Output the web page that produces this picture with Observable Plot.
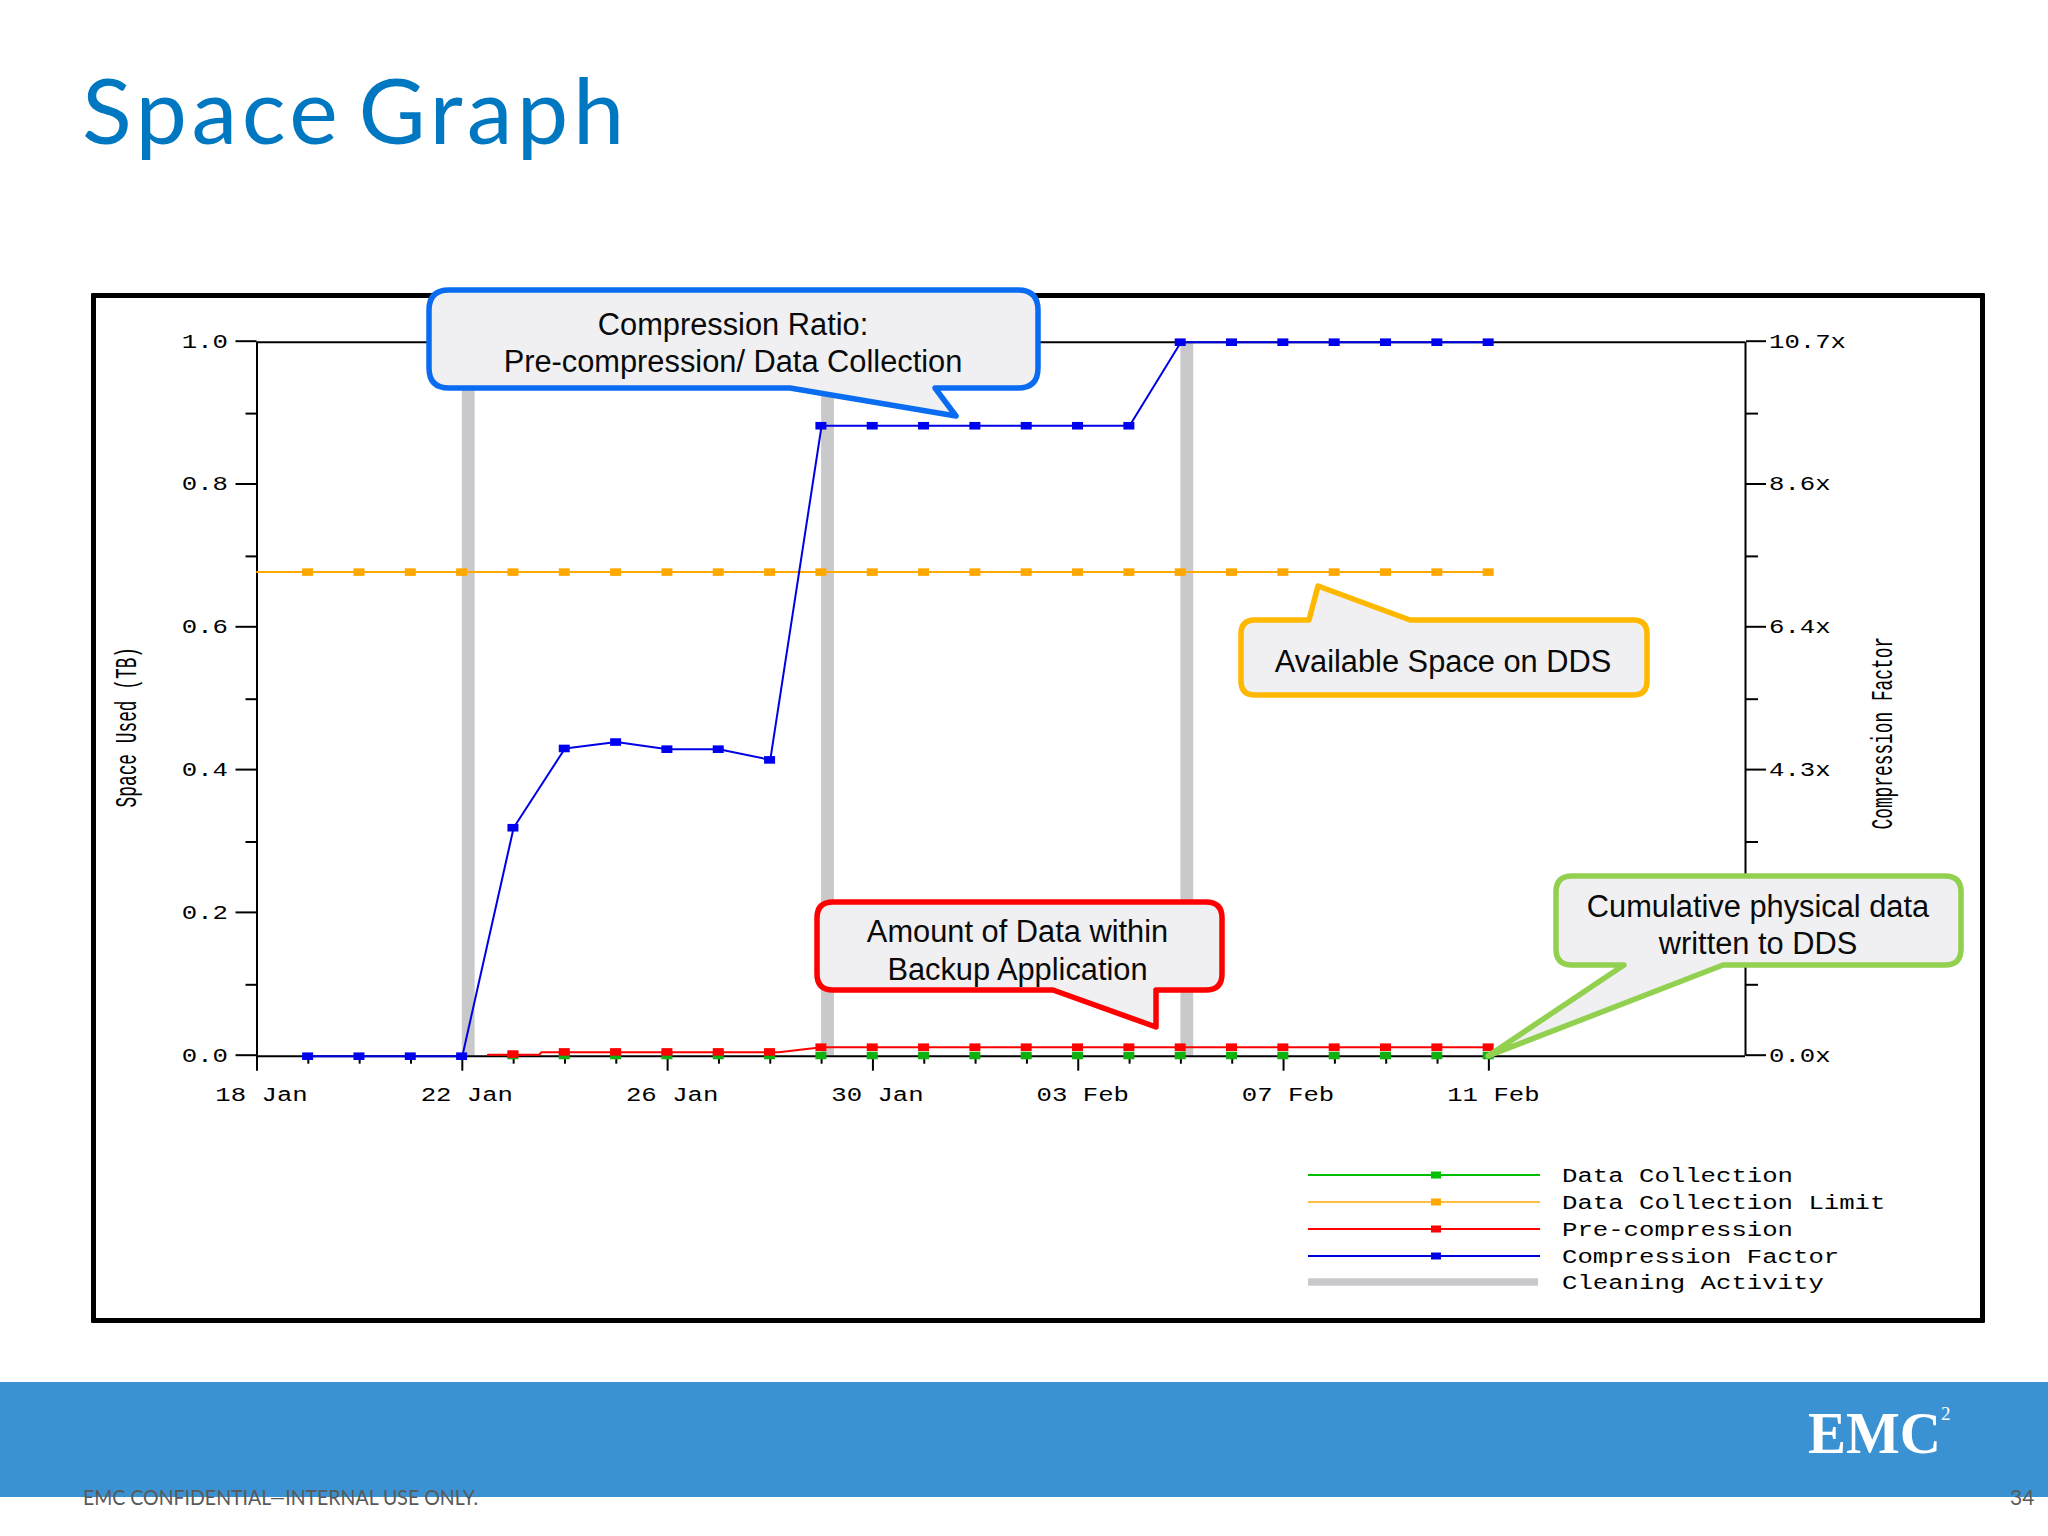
<!DOCTYPE html>
<html><head><meta charset="utf-8">
<script src="https://cdn.jsdelivr.net/npm/d3@7"></script>
<script src="https://cdn.jsdelivr.net/npm/@observablehq/plot@0.6"></script>
<style>
html,body{margin:0;padding:0;background:#fff;}
#page{position:relative;width:2048px;height:1536px;overflow:hidden;background:#fff;}
h1{position:absolute;left:82px;top:53px;margin:0;font:400 92px Lato,sans-serif;color:#0078C1;letter-spacing:4.5px;word-spacing:-12px;white-space:nowrap;}
#frame{position:absolute;left:91px;top:293px;width:1884px;height:1020px;border:5.5px solid #000;border-radius:1px;}
#band{position:absolute;left:0;top:1382px;width:2048px;height:115px;background:#3B92D2;}
#overlay{position:absolute;left:0;top:0;}
</style></head>
<body><div id="page">
<h1>Space Graph</h1>
<div id="frame"></div>
<div id="band"></div>
<div id="chart"></div>
</div>
<script>
// ---- data ----
const axisDomain = ["2013-01-18", "2013-02-16"];
const majorTickDates = ["2013-01-18","2013-01-22","2013-01-26","2013-01-30","2013-02-03","2013-02-07","2013-02-11"];
const minorTickDates = ["2013-01-19","2013-01-20","2013-01-21","2013-01-23","2013-01-24","2013-01-25","2013-01-27","2013-01-28","2013-01-29","2013-01-31","2013-02-01","2013-02-02","2013-02-04","2013-02-05","2013-02-06","2013-02-08","2013-02-09","2013-02-10"];
const yMajor = [0, 0.2, 0.4, 0.6, 0.8, 1.0];
const yMinor = [0.1, 0.3, 0.5, 0.7, 0.9];
const rightLabels = ["0.0x","","4.3x","6.4x","8.6x","10.7x"];

const dates = ["2013-01-19","2013-01-20","2013-01-21","2013-01-22","2013-01-23","2013-01-24","2013-01-25","2013-01-26","2013-01-27","2013-01-28","2013-01-29","2013-01-30","2013-01-31","2013-02-01","2013-02-02","2013-02-03","2013-02-04","2013-02-05","2013-02-06","2013-02-07","2013-02-08","2013-02-09","2013-02-10","2013-02-11"];
const compression = [0,0,0,0,0.32,0.431,0.44,0.43,0.43,0.415,0.883,0.883,0.883,0.883,0.883,0.883,0.883,1,1,1,1,1,1,1];
const limit = 0.678;
const limitLineDates = ["2013-01-18","2013-02-11"];
const preDates = dates.slice(4);
const preValues = [0.003,0.006,0.006,0.006,0.006,0.006,0.0126,0.0126,0.0126,0.0126,0.0126,0.0126,0.0126,0.0126,0.0126,0.0126,0.0126,0.0126,0.0126,0.0126];
const preLineDates = ["2013-01-22T12:00Z","2013-01-23T12:00Z","2013-01-23T13:00Z","2013-01-28T04:00Z","2013-01-29"].concat(preDates.slice(6));
const preLineValues = [0.002,0.002,0.0055,0.0055,0.0126].concat(preValues.slice(6));
const collectionDates = preDates;
const collectionValues = preDates.map(() => 0.001);
const cleaningStart = ["2013-01-22","2013-01-29","2013-02-05"];
const cleaningEnd = ["2013-01-22T06:00Z","2013-01-29T06:00Z","2013-02-05T06:00Z"];

const legendLabels = ["Data Collection","Data Collection Limit","Pre-compression","Compression Factor","Cleaning Activity"];
const legendColors = ["#00BE00","#FFA800","#FF0000","#0000E6","#C9C9CC"];
const [cGreen, cOrange, cRed, cBlue, cGrey] = legendColors;

const d = s => new Date(s);
const toRows = (xs, ys) => xs.map((x, i) => ({x: d(x), y: ys[i]}));
const limitRows = dates.map(x => ({x: d(x), y: limit}));
const box = { draw(ctx) { ctx.rect(-5.5, -3.8, 11, 7.6); } };
const MONO = "'Liberation Mono',monospace";

const dotOpts = (fill) => ({x: "x", y: "y", fill, symbol: box, dx: -0.7});

const chart = Plot.plot({
  width: 1885, height: 1020,
  marginLeft: 160.5, marginRight: 236, marginTop: 43.7, marginBottom: 262.3,
  style: {background: "transparent", fontFamily: MONO, fontSize: "20px", position: "absolute", left: "96px", top: "298px", color: "#000", overflow: "visible", maxWidth: "none"},
  x: {type: "utc", domain: axisDomain.map(d), axis: null},
  y: {domain: [0, 1], axis: null},
  marks: [
    Plot.rect(cleaningStart.map((s, i) => ({a: d(s), b: d(cleaningEnd[i])})), {x1: "a", x2: "b", y1: 0, y2: 1, fill: cGrey}),
    // frame of the plot area
    Plot.ruleY([0, 1], {stroke: "#000", strokeWidth: 2}),
    Plot.ruleX(axisDomain.map(d), {stroke: "#000", strokeWidth: 2}),
    // left axis
    Plot.axisY({anchor: "left", ticks: yMajor, tickSize: 21, tickPadding: 8, tickFormat: ".1f", label: null, strokeWidth: 2, dy: -1}),
    Plot.axisY({anchor: "left", ticks: yMinor, tickSize: 11, tickFormat: () => "", label: null, strokeWidth: 2}),
    // right axis
    Plot.axisY({anchor: "right", ticks: yMajor, tickSize: 20, tickPadding: 3.5, tickFormat: (v, i) => rightLabels[i], label: null, strokeWidth: 2, dy: -1}),
    Plot.axisY({anchor: "right", ticks: yMinor, tickSize: 12, tickFormat: () => "", label: null, strokeWidth: 2}),
    // bottom axis
    Plot.axisX({ticks: majorTickDates.map(d), tickSize: 15, tickFormat: () => "", label: null, strokeWidth: 2}),
    Plot.axisX({ticks: minorTickDates.map(d), tickSize: 8, tickFormat: () => "", label: null, strokeWidth: 2}),
    Plot.axisX({ticks: majorTickDates.map(d), tickSize: 0, tickPadding: 31, tickFormat: "%d %b", label: null, dx: 4.5}),
    // series, above the axes
    Plot.line(toRows(limitLineDates, [limit, limit]), {x: "x", y: "y", stroke: cOrange, strokeWidth: 2}),
    Plot.dot(limitRows, dotOpts(cOrange)),
    Plot.line(toRows(dates, compression), {x: "x", y: "y", stroke: cBlue, strokeWidth: 2, curve: "linear"}),
    Plot.dot(toRows(dates, compression), dotOpts("#0000F0")),
    Plot.dot(toRows(collectionDates, collectionValues), dotOpts("#10B010")),
    Plot.line(toRows(preLineDates, preLineValues), {x: "x", y: "y", stroke: cRed, strokeWidth: 2}),
    Plot.dot(toRows(preDates, preValues), dotOpts(cRed)),
    // axis titles
    Plot.text(["Space Used (TB)"], {frameAnchor: "top-left", dx: -121, dy: 385, rotate: -90, text: t => t, fontSize: 30, fontFamily: MONO, lineAnchor: "bottom", textAnchor: "middle"}),
    Plot.text(["Compression Factor"], {frameAnchor: "top-left", dx: 1635, dy: 391, rotate: -90, text: t => t, fontSize: 30, fontFamily: MONO, lineAnchor: "bottom", textAnchor: "middle"})
  ]
});
document.getElementById("chart").appendChild(chart);

// widen / squeeze the monospace text to the reference's character pitch
d3.select(chart).selectAll("text").each(function () {
  const s = this.textContent;
  if (!s) return;
  const vertical = /Used|Factor/.test(s);
  this.setAttribute("textLength", s.length * (vertical ? 10.7 : 15.4));
  this.setAttribute("lengthAdjust", "spacingAndGlyphs");
});

// ---- overlay: legend, callouts, footer ----
const svg = d3.select("#page").append("svg").attr("id", "overlay").attr("width", 2048).attr("height", 1536);

const legendRowY = [1175, 1202, 1229, 1256, 1282];
legendLabels.forEach((label, i) => {
  const y = legendRowY[i], c = legendColors[i];
  if (i < 4) {
    svg.append("line").attr("x1", 1308).attr("x2", 1540).attr("y1", y).attr("y2", y).attr("stroke", c).attr("stroke-width", i === 1 ? 1.5 : 2);
    svg.append("rect").attr("x", 1431).attr("y", y - 3.5).attr("width", 10).attr("height", 7).attr("fill", c);
  } else {
    svg.append("rect").attr("x", 1308).attr("y", y - 3.7).attr("width", 230).attr("height", 7.4).attr("fill", c);
  }
  svg.append("text").attr("x", 1562).attr("y", y + 6.5).text(label)
    .attr("font-family", MONO).attr("font-size", 20).attr("fill", "#000")
    .attr("textLength", label.length * 15.4).attr("lengthAdjust", "spacingAndGlyphs");
});

function callout(x0, y0, x1, y1, r, tail, side) {
  const t = tail.map(p => `L${p[0]},${p[1]}`).join("");
  return `M${x0 + r},${y0}` + (side === "top" ? t : "") +
    `L${x1 - r},${y0}Q${x1},${y0} ${x1},${y0 + r}L${x1},${y1 - r}Q${x1},${y1} ${x1 - r},${y1}` +
    (side === "bottom" ? t : "") +
    `L${x0 + r},${y1}Q${x0},${y1} ${x0},${y1 - r}L${x0},${y0 + r}Q${x0},${y0} ${x0 + r},${y0}Z`;
}
const callouts = [
  {c: "#0A6CF0", box: [429, 290, 1038, 388, 20], side: "bottom", tail: [[935, 388], [956, 416], [790, 388]],
   lines: ["Compression Ratio:", "Pre-compression/ Data Collection"], cx: 733, base: [334.5, 372]},
  {c: "#FFB800", box: [1241, 620, 1647, 695, 14], side: "top", tail: [[1309, 620], [1318, 586], [1410, 620]],
   lines: ["Available Space on DDS"], cx: 1443, base: [672]},
  {c: "#FF0000", box: [817, 902, 1222, 990, 16], side: "bottom", tail: [[1156, 990], [1156, 1027], [1053, 990]],
   lines: ["Amount of Data within", "Backup Application"], cx: 1017.5, base: [942, 980]},
  {c: "#92D050", box: [1556, 876, 1961, 965, 16], side: "bottom", tail: [[1723, 965], [1488, 1056], [1624, 965]],
   lines: ["Cumulative physical data", "written to DDS"], cx: 1758, base: [917, 954]}
];
callouts.forEach(o => {
  const [x0, y0, x1, y1, r] = o.box;
  svg.append("path").attr("d", callout(x0, y0, x1, y1, r, o.tail, o.side))
    .attr("fill", "#F0F0F3").attr("stroke", o.c).attr("stroke-width", 5.5).attr("stroke-linejoin", "round");
  o.lines.forEach((l, i) => svg.append("text").attr("x", o.cx).attr("y", o.base[i]).attr("text-anchor", "middle")
    .attr("font-family", "'Liberation Sans',Arial,sans-serif").attr("font-size", 30.8).attr("fill", "#0A0A0A").text(l));
});

svg.append("text").attr("x", 1808).attr("y", 1453).text("EMC").attr("font-family", "'Liberation Serif',serif").attr("font-weight", 700)
  .attr("font-size", 60).attr("fill", "#fff").attr("textLength", 133).attr("lengthAdjust", "spacingAndGlyphs");
svg.append("text").attr("x", 1941).attr("y", 1420).text("2").attr("font-family", "'Liberation Serif',serif").attr("font-size", 19).attr("fill", "#fff");
svg.append("text").attr("x", 83).attr("y", 1505).text("EMC CONFIDENTIAL\u2014INTERNAL USE ONLY.").attr("font-family", "Lato,sans-serif")
  .attr("font-size", 21).attr("fill", "#595959").attr("textLength", 395).attr("lengthAdjust", "spacingAndGlyphs");
svg.append("text").attr("x", 2010).attr("y", 1505).text("34").attr("font-family", "Lato,sans-serif").attr("font-size", 21).attr("fill", "#595959");
</script>
</body></html>
